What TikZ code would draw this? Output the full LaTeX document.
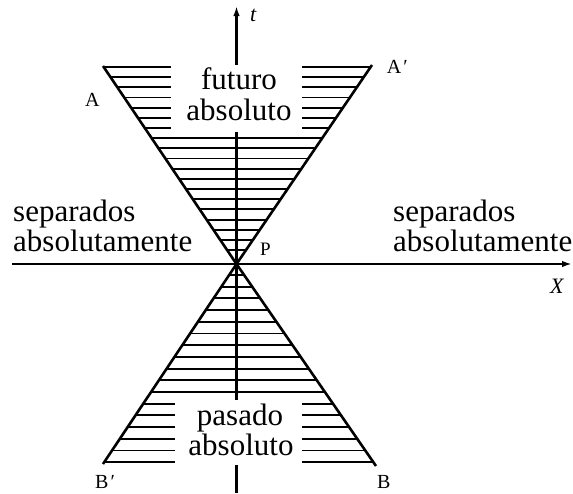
\documentclass[tikz,border=0pt]{standalone}
\usepackage{fontspec}
\setmainfont{Liberation Serif}
\usetikzlibrary{arrows.meta}
\begin{document}
\begin{tikzpicture}[x=1pt,y=-1pt,
  cone/.style={line width=2.6pt},
  hatch/.style={line width=1.9pt},
  axis/.style={line width=2.3pt},
  tip/.style={-{Latex[length=10pt,width=6.5pt]}},
  bigtext/.style={anchor=base,inner sep=0pt,font=\fontsize{31}{31}\selectfont},
  lbl/.style={anchor=base west,inner sep=0pt,font=\fontsize{20}{20}\selectfont},
]
\useasboundingbox (0,0) rectangle (573,493);
% key points
\coordinate (P) at (236.5,264);
\coordinate (Acor) at (103,66);
\coordinate (Apcor) at (372,65);
\coordinate (Bpcor) at (103,464);
\coordinate (Bcor) at (376,466);
% hatching, future cone
\foreach \k in {0,...,18}{
  \pgfmathsetmacro\yy{67+10.17*\k}
  \pgfmathsetmacro\xl{236.5-(133.5/198)*(264-\yy)}
  \pgfmathsetmacro\xr{236.5+(135.5/198)*(264-\yy)}
  \ifnum\k<7
    \draw[hatch] (\xl,\yy) -- (171,\yy);
    \draw[hatch] (302,\yy) -- (\xr,\yy);
  \else
    \draw[hatch] (\xl,\yy) -- (\xr,\yy);
  \fi
}
% hatching, past cone
\foreach \k in {0,...,16}{
  \pgfmathsetmacro\yy{275+11.7*\k}
  \pgfmathsetmacro\xl{236.5-(133.5/200)*(\yy-264)}
  \pgfmathsetmacro\xr{236.5+(139.5/201)*(\yy-264)}
  \ifnum\k<11
    \draw[hatch] (\xl,\yy) -- (\xr,\yy);
  \else
    \draw[hatch] (\xl,\yy) -- (175,\yy);
    \draw[hatch] (302,\yy) -- (\xr,\yy);
  \fi
}
% cone edges
\draw[cone] (Acor) -- (P) -- (Bcor);
\draw[cone] (Apcor) -- (P) -- (Bpcor);
% axes
\coordinate (xs) at (12,264);
\coordinate (xe) at (572,264);
\draw[axis,tip] (xs) -- (xe);
\coordinate (t0) at (236.5,65);
\coordinate (t1) at (236.5,6);
\draw[axis,tip] (t0) -- (t1);
\coordinate (v1) at (236.5,131.5);
\coordinate (v2) at (236.5,400);
\draw[axis] (v1) -- (v2);
\coordinate (v3) at (236.5,465);
\coordinate (v4) at (236.5,493);
\draw[axis] (v3) -- (v4);
% texts
\node[bigtext] (fut1) at (239,89.3) {futuro};
\node[bigtext] (fut2) at (239,120.7) {absoluto};
\node[bigtext] (pas1) at (240,425) {pasado};
\node[bigtext] (pas2) at (241,455) {absoluto};
\node[bigtext,anchor=base west] (sl1) at (13,221.7) {separados};
\node[bigtext,anchor=base west] (sl2) at (13,251.7) {absolutamente};
\node[bigtext,anchor=base west] (sr1) at (393,221.7) {separados};
\node[bigtext,anchor=base west] (sr2) at (393,251.7) {absolutamente};
% labels
\node[lbl] (lA) at (85,106.7) {A};
\node[lbl] (lAp) at (386.7,73.3) {A\kern2pt′};
\node[lbl] (lBp) at (95,488) {B\kern2pt′};
\node[lbl] (lB) at (377,488) {B};
\node[lbl,font=\fontsize{19}{19}\selectfont] (lP) at (260,255) {P};
\node[lbl,font=\fontsize{22}{22}\selectfont\itshape] (lt) at (250,21.7) {t};
\node[lbl,font=\fontsize{22}{22}\selectfont\itshape] (lX) at (550,293.3) {X};
\end{tikzpicture}
\end{document}
